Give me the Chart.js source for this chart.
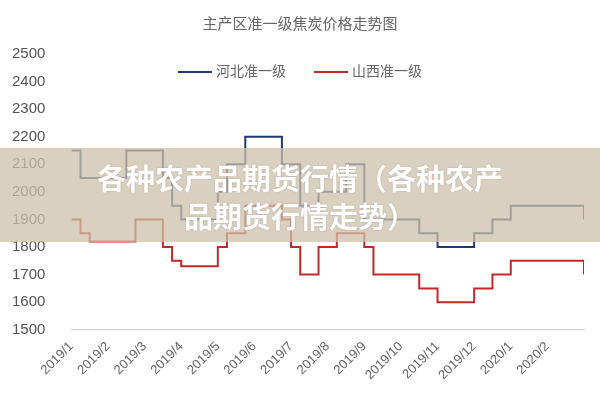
<!DOCTYPE html><html><head><meta charset="utf-8">
<script src="https://cdn.jsdelivr.net/npm/chart.js@4"></script>
<style>body{margin:0;width:600px;height:400px;overflow:hidden;background:#fff;position:relative;font-family:"Noto Sans CJK SC"}
#w{position:absolute;left:-6px;top:0;width:606px;height:400px}
#t{position:absolute;top:12px;left:0;width:600px;text-align:center;color:#666;font-size:15px}
#l{position:absolute;top:60px;left:0;width:600px;text-align:center;color:#666;font-size:14px}
#l span{display:inline-block;width:34px;height:2px;vertical-align:middle;margin-right:4px}
#b{position:absolute;left:0;top:148px;width:600px;height:94px;background:rgba(205,192,170,0.75);color:#fff;font:bold 29px "Noto Sans CJK SC";text-align:center;line-height:38px;padding-top:10px;box-sizing:border-box;text-shadow:0 0 2px rgba(0,0,0,0.2)}</style></head><body>
<div id="w"><canvas id="c"></canvas></div>
<div id="t">主产区准一级焦炭价格走势图</div>
<div id="l"><span style="background:#203a74"></span>河北准一级&emsp;&emsp;<span style="background:#c0282a"></span>山西准一级</div>
<div id="b">各种农产品期货行情（各种农产<br>品期货行情走势）</div>
<script>
const monthLabels=['2019/1','2019/2','2019/3','2019/4','2019/5','2019/6','2019/7','2019/8','2019/9','2019/10','2019/11','2019/12','2020/1','2020/2',''];
const hebei=[2150,2050,2050,2050,2050,2050,2150,2150,2150,2150,2050,1950,1900,1900,1900,1900,2000,2100,2100,2200,2200,2200,2200,2100,2100,1950,1950,2000,2000,2000,2100,2100,1900,1900,1900,1900,1900,1900,1850,1850,1800,1800,1800,1800,1850,1850,1900,1900,1950,1950,1950,1950,1950,1950,1950,1950,1900];
const shanxi=[1900,1850,1820,1820,1820,1820,1820,1900,1900,1900,1800,1750,1730,1730,1730,1730,1800,1850,1850,1950,1950,1950,1950,1900,1800,1700,1700,1800,1800,1850,1850,1850,1800,1700,1700,1700,1700,1700,1650,1650,1600,1600,1600,1600,1650,1650,1700,1700,1750,1750,1750,1750,1750,1750,1750,1750,1700];
const pts=a=>a.map((v,i)=>({x:i/4,y:v}));
new Chart(document.getElementById('c'),{type:'line',
data:{datasets:[
{label:'河北准一级',data:pts(hebei),borderColor:'#203a74',borderWidth:2,pointRadius:0,stepped:true},
{label:'山西准一级',data:pts(shanxi),borderColor:'#c0282a',borderWidth:2,pointRadius:0,stepped:true}]},
options:{animation:false,responsive:true,maintainAspectRatio:false,
layout:{padding:{left:0,right:16,top:54,bottom:14}},
plugins:{legend:{display:false}},
scales:{x:{type:'linear',min:0,max:14,grid:{display:false,drawTicks:true,tickLength:6,tickColor:'#ccc'},border:{color:'#ccc'},
ticks:{stepSize:1,maxRotation:45,minRotation:45,color:'#666',font:{size:13},callback:v=>monthLabels[v]}},
y:{min:1500,max:2500,grid:{display:false},border:{display:false},ticks:{stepSize:100,color:'#555',font:{size:15},padding:18,callback:v=>String(v)}}}}});
</script></body></html>
